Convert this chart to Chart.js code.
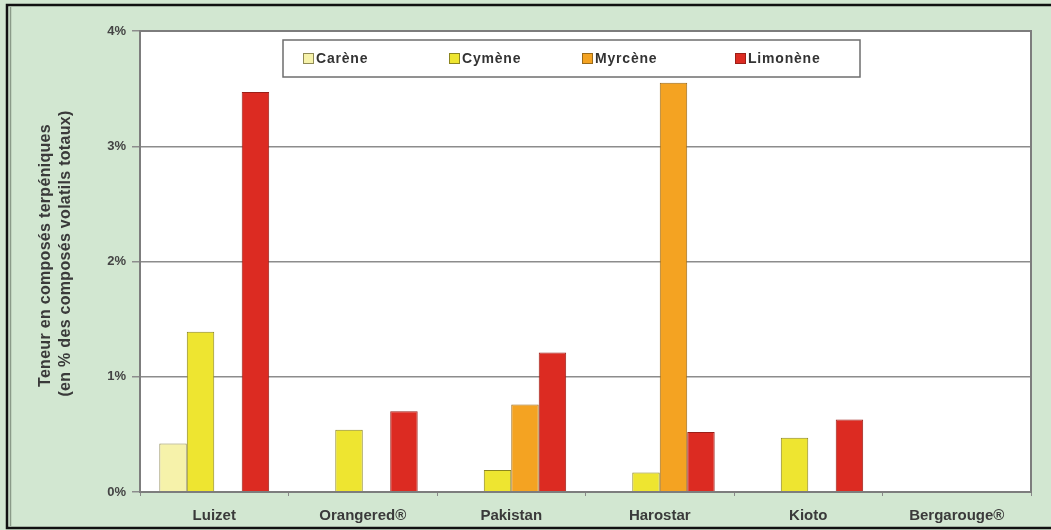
<!DOCTYPE html>
<html><head><meta charset="utf-8">
<style>html,body{margin:0;padding:0;background:#d2e7d1;overflow:hidden}#wrap{width:1051px;height:530px;position:relative}</style>
<script src="https://cdn.jsdelivr.net/npm/chart.js@4/dist/chart.umd.min.js"></script>
</head><body><div id="wrap"><canvas id="c" width="1051" height="530"></canvas></div>
<script>
const categories = ["Luizet", "Orangered®", "Pakistan", "Harostar", "Kioto", "Bergarouge®"];
const carene   = [0.42, 0, 0, 0, 0, 0];
const cymene   = [1.39, 0.54, 0.19, 0.17, 0.47, 0];
const myrcene  = [0, 0, 0.76, 3.55, 0, 0];
const limonene = [3.47, 0.70, 1.21, 0.52, 0.63, 0];
const yTicks = [0, 1, 2, 3, 4];
const yTitle = ["Teneur en composés terpéniques", "(en % des composés volatils totaux)"];

const FONT = "'Liberation Sans', Arial, sans-serif";

const bgPlugin = {
  id: 'bg',
  beforeDraw(chart) {
    const ctx = chart.ctx;
    ctx.save();
    ctx.fillStyle = '#d2e7d1';
    ctx.fillRect(0, 0, chart.width, chart.height);
    ctx.strokeStyle = '#111';
    ctx.lineWidth = 2.5;
    ctx.strokeRect(7, 5, chart.width + 10, chart.height - 7);
    ctx.strokeStyle = '#8a9a88';
    ctx.lineWidth = 1.5;
    ctx.beginPath(); ctx.moveTo(10.5, 7); ctx.lineTo(10.5, chart.height - 4); ctx.stroke();
    const a = chart.chartArea;
    ctx.fillStyle = '#ffffff';
    ctx.fillRect(a.left, a.top, a.right - a.left, a.bottom - a.top);
    ctx.restore();
  },
  afterDraw(chart) {
    const ctx = chart.ctx;
    const a = chart.chartArea;
    ctx.save();
    ctx.strokeStyle = '#7d7d7d';
    ctx.lineWidth = 2;
    ctx.strokeRect(a.left, a.top, a.right - a.left, a.bottom - a.top);
    ctx.fillStyle = '#3a3a3a';
    ctx.font = "bold 16px " + FONT;
    ctx.letterSpacing = '0.3px';
    ctx.textAlign = 'center';
    ctx.textBaseline = 'middle';
    const cy = (a.top + a.bottom) / 2 - 6;
    ctx.translate(0, cy);
    ctx.rotate(-Math.PI / 2);
    ctx.fillText(yTitle[0], 0, 46);
    ctx.fillText(yTitle[1], 2, 66);
    ctx.restore();
    ctx.save();
    const lx = a.left + 143, ly = a.top + 9, lw = 577, lh = 37;
    ctx.fillStyle = '#fff';
    ctx.fillRect(lx, ly, lw, lh);
    ctx.strokeStyle = '#6e6e6e';
    ctx.lineWidth = 1.5;
    ctx.strokeRect(lx, ly, lw, lh);
    const offs = [20, 166, 299, 452];
    ctx.font = "bold 14px " + FONT;
    ctx.letterSpacing = '0.8px';
    ctx.textBaseline = 'middle';
    ctx.textAlign = 'left';
    chart.data.datasets.forEach((ds, i) => {
      const x = lx + offs[i], y = ly + lh / 2;
      ctx.fillStyle = ds.backgroundColor;
      ctx.fillRect(x, y - 5.5, 11, 11);
      ctx.strokeStyle = ds.borderColor;
      ctx.lineWidth = 1;
      ctx.strokeRect(x + 0.5, y - 5, 10, 10);
      ctx.fillStyle = '#333';
      ctx.fillText(ds.label, x + 13, y + 1);
    });
    ctx.restore();
  }
};

new Chart(document.getElementById('c'), {
  type: 'bar',
  data: {
    labels: categories,
    datasets: [
      { label: 'Carène',   data: carene,   backgroundColor: '#f6f2aa', borderColor: '#8f8a55', borderWidth: 1 },
      { label: 'Cymène',   data: cymene,   backgroundColor: '#eee530', borderColor: '#8c8520', borderWidth: 1 },
      { label: 'Myrcène',  data: myrcene,  backgroundColor: '#f4a322', borderColor: '#9a6a1a', borderWidth: 1 },
      { label: 'Limonène', data: limonene, backgroundColor: '#dc2b22', borderColor: '#9b1f18', borderWidth: 1 }
    ]
  },
  options: {
    responsive: false,
    animation: false,
    devicePixelRatio: 1,
    layout: { padding: { left: 0, top: 31, right: 20, bottom: 0 } },
    plugins: { legend: { display: false }, tooltip: { enabled: false } },
    datasets: { bar: { barPercentage: 1, categoryPercentage: 0.74 } },
    scales: {
      x: {
        offset: true,
        grid: { offset: true, drawOnChartArea: false, color: '#888', tickLength: 4 },
        border: { display: false },
        ticks: { color: '#3a3a3a', font: { family: FONT, size: 15, weight: 'bold' }, padding: 11, maxRotation: 0, autoSkip: false },
        afterFit(s) { s.height = 38; }
      },
      y: {
        min: 0, max: 4,
        afterBuildTicks(s) { s.ticks = yTicks.map(v => ({ value: v })); },
        grid: { color: '#8c8c8c', lineWidth: 1.5, tickLength: 8 },
        border: { display: false },
        ticks: { color: '#444', font: { family: FONT, size: 13, weight: 'bold' }, padding: 6, callback: v => v + '%' },
        afterFit(s) { s.width = 140; }
      }
    }
  },
  plugins: [bgPlugin]
});
</script></body></html>
